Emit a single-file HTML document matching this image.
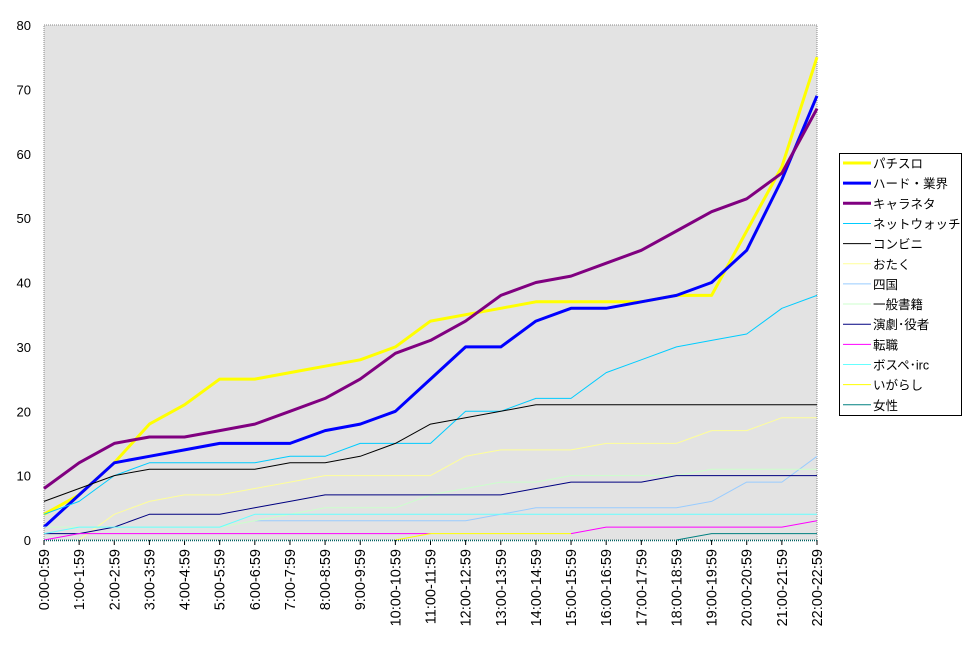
<!DOCTYPE html>
<html><head><meta charset="utf-8"><style>
body{margin:0;background:#fff;}
text{font-family:"Liberation Sans","Noto Sans CJK JP",sans-serif;font-size:13px;fill:#000;}
#xl text{font-size:14.5px;}
#leg text{font-size:12.5px;}
</style></head><body>
<svg width="967" height="640" xmlns="http://www.w3.org/2000/svg">
<rect x="44" y="25" width="773" height="515" fill="#e3e3e3" stroke="#888" stroke-width="1" stroke-dasharray="1,1"/>
<g id="yl"></g>
<g id="plot"></g>
<g id="xl"></g>
<rect x="839.5" y="153.5" width="122" height="262" fill="#fff" stroke="#000"/>
<g id="leg"></g>
</svg>
<script>
var N=null;
var S=[
["パチスロ","#ffff00",3,[4,7,12,18,21,25,25,26,27,28,30,34,35,36,37,37,37,37,38,38,48,58,75]],
["ハード・業界","#0000ff",3,[2,7,12,13,14,15,15,15,17,18,20,25,30,30,34,36,36,37,38,40,45,56,69]],
["キャラネタ","#800080",3,[8,12,15,16,16,17,18,20,22,25,29,31,34,38,40,41,43,45,48,51,53,57,67]],
["ネットウォッチ","#00ccff",1,[4,6,10,12,12,12,12,13,13,15,15,15,20,20,22,22,26,28,30,31,32,36,38]],
["コンビニ","#000000",1,[6,8,10,11,11,11,11,12,12,13,15,18,19,20,21,21,21,21,21,21,21,21,21]],
["おたく","#ffff99",1,[N,0,4,6,7,7,8,9,10,10,10,10,13,14,14,14,15,15,15,17,17,19,19]],
["四国","#99ccff",1,[N,N,N,N,N,N,3,3,3,3,3,3,3,4,5,5,5,5,5,6,9,9,13]],
["一般書籍","#ccffcc",1,[2,2,2,2,2,2,3,4,5,5,5,7,8,9,9,10,10,10,10,11,11,11,11]],
["演劇･役者","#000080",1,[1,1,2,4,4,4,5,6,7,7,7,7,7,7,8,9,9,9,10,10,10,10,10]],
["転職","#ff00ff",1,[0,1,1,1,1,1,1,1,1,1,1,1,N,N,N,1,2,2,2,2,2,2,3]],
["ボスペ･irc","#66ffff",1,[1,2,2,2,2,2,4,4,4,4,4,4,4,4,4,4,4,4,4,4,4,4,4]],
["いがらし","#ffff00",1,[N,N,N,N,N,N,N,N,N,N,0,1,1,1,1,1,N,N,N,N,N,N,N]],
["女性","#008080",1,[N,N,N,N,N,N,N,N,N,N,N,N,N,N,N,N,N,N,0,1,1,1,1]]
];
var ns="http://www.w3.org/2000/svg";
function el(t,a,p,txt){var e=document.createElementNS(ns,t);for(var k in a)e.setAttribute(k,a[k]);if(txt)e.textContent=txt;document.getElementById(p).appendChild(e);return e;}
function X(i){return 44+773/22*i;} function Y(v){return 540-6.4375*v;}
for(var v=0;v<=80;v+=10){el("text",{x:31,y:Y(v)+5,"text-anchor":"end"},"yl",String(v));}
for(var i=0;i<23;i++){el("line",{x1:X(i),y1:540,x2:X(i),y2:545,stroke:"#000"},"xl");
el("text",{x:0,y:0,transform:"translate("+(X(i)+5)+",549) rotate(-90)","text-anchor":"end"},"xl",i+":00-"+i+":59");}
el("line",{x1:44,y1:540.5,x2:817,y2:540.5,stroke:"#006060","stroke-width":1.5,"stroke-dasharray":"1,1"},"xl");
S.forEach(function(s){var d="",pen=false;s[3].forEach(function(v,i){if(v===null){pen=false;return;}d+=(pen?"L":"M")+X(i).toFixed(1)+","+Y(v).toFixed(1);pen=true;});
el("path",{d:d,fill:"none",stroke:s[1],"stroke-width":s[2],"stroke-linejoin":"round"},"plot");});
S.forEach(function(s,k){var y=163+20.15*k;el("line",{x1:843,y1:y,x2:871,y2:y,stroke:s[1],"stroke-width":s[2]},"leg");
el("text",{x:873,y:y+5},"leg",s[0]);});
</script>
</body></html>
